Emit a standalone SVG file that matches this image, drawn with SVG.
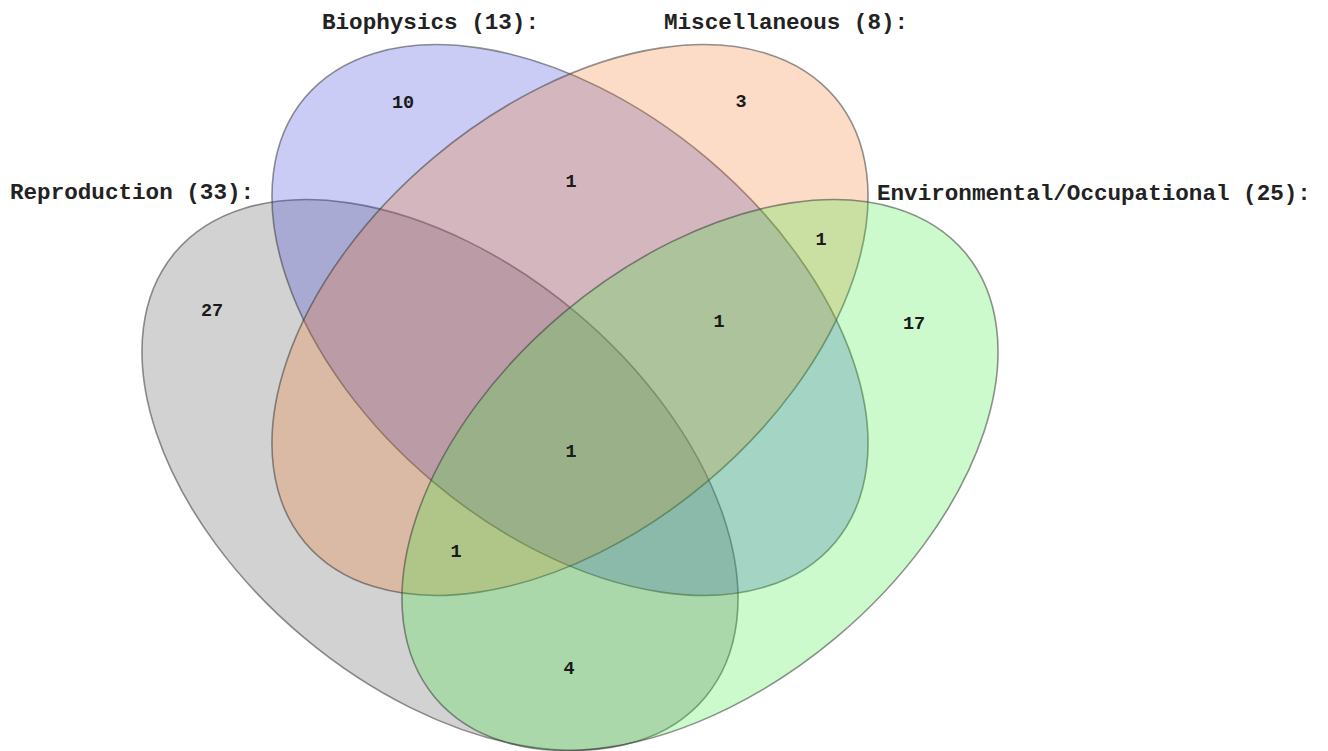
<svg xmlns="http://www.w3.org/2000/svg" width="1328" height="751" viewBox="0 0 1328 751">
<style>
.set{fill-opacity:0.25;stroke:#3a3a3a;stroke-opacity:0.55;stroke-width:1.6}
.lbl{font-family:"Liberation Mono","DejaVu Sans Mono",monospace;font-size:22.6px;font-weight:bold;fill:#222}
.num{font-family:"Liberation Mono","DejaVu Sans Mono",monospace;font-size:18.5px;font-weight:bold;fill:#1a1a1a;text-anchor:middle}
</style>
<rect width="1328" height="751" fill="#ffffff"/>
<g id="reproduction">
<ellipse class="set" cx="440" cy="475" rx="346" ry="212" transform="rotate(40 440 475)" fill="#4b4b4b"/>
<text class="lbl" x="10" y="199">Reproduction (33):</text>
</g>
<g id="biophysics">
<ellipse class="set" cx="570" cy="320" rx="346" ry="212" transform="rotate(40 570 320)" fill="#2d33d7"/>
<text class="lbl" x="322" y="29">Biophysics (13):</text>
</g>
<g id="miscellaneous">
<ellipse class="set" cx="570" cy="320" rx="346" ry="212" transform="rotate(-40 570 320)" fill="#f3731f"/>
<text class="lbl" x="664" y="29">Miscellaneous (8):</text>
</g>
<g id="environmental">
<ellipse class="set" cx="700" cy="475" rx="346" ry="212" transform="rotate(-40 700 475)" fill="#33eb33"/>
<text class="lbl" x="877" y="200">Environmental/Occupational (25):</text>
</g>
<g id="counts">
<text class="num" x="403" y="108">10</text>
<text class="num" x="741" y="107">3</text>
<text class="num" x="571" y="187">1</text>
<text class="num" x="212" y="316">27</text>
<text class="num" x="821" y="245">1</text>
<text class="num" x="719" y="327">1</text>
<text class="num" x="914" y="329">17</text>
<text class="num" x="571" y="457">1</text>
<text class="num" x="456" y="557">1</text>
<text class="num" x="569" y="674">4</text>
</g>
</svg>
